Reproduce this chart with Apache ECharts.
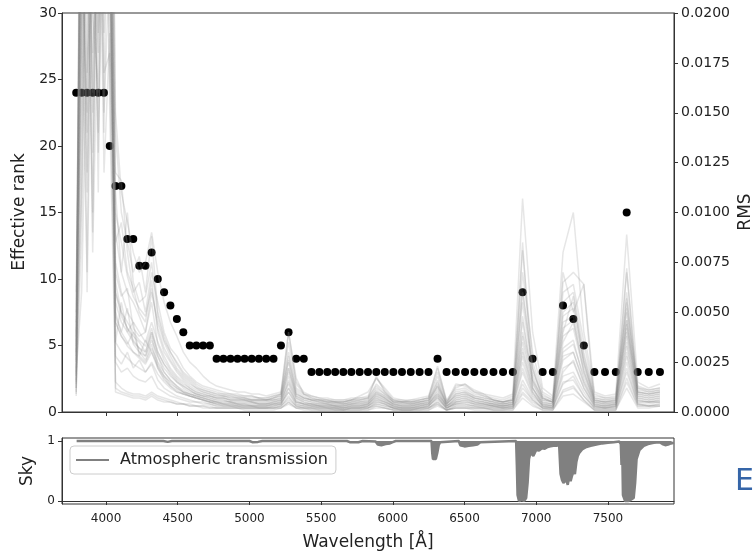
<!DOCTYPE html>
<html><head><meta charset="utf-8">
<script src="https://cdn.jsdelivr.net/npm/echarts@6/dist/echarts.min.js"></script>
<style>html,body{margin:0;padding:0;background:#fff}#c{width:754px;height:555px}</style>
</head><body><div id="c"></div>
<script>
// Wavelength grid (Å) of the effective-rank / RMS measurements
const wavelengths = [3792,3830,3868,3907,3946,3986,4026,4066,4107,4149,4190,4232,4275,4318,4361,4405,4449,4494,4539,4584,4630,4677,4724,4771,4819,4868,4917,4966,5016,5066,5117,5168,5220,5273,5326,5379,5433,5488,5543,5598,5655,5711,5769,5827,5885,5944,6004,6064,6125,6187,6249,6312,6375,6439,6504,6569,6635,6702,6769,6837,6905,6975,7045,7116,7187,7259,7332,7406,7480,7555,7631,7708,7785,7863];
// Effective rank (left axis)
const effectiveRank = [24,24,24,24,24,24,20,17,17,13,13,11,11,12,10,9,8,7,6,5,5,5,5,4,4,4,4,4,4,4,4,4,5,6,4,4,3,3,3,3,3,3,3,3,3,3,3,3,3,3,3,4,3,3,3,3,3,3,3,3,9,4,3,3,8,7,5,3,3,3,15,3,3,3];
// RMS curves (right axis), in units of 1e-4
const RMS_UNIT = 1e-4;
const rms01 = [30,260,140,380,220,300,400, 150,110,95,80,70,75,90, 70,55,45,38,30,25,22,18,15, 13,12,11,10,10,9,9,8,9,10, 40, 15,10,8,7,7,6,6,7,7,8, 17,12, 7,6,6,7,8, 22, 6, 12,14,10,9, 8,7,9, 107, 40, 12,8, 80,100, 40, 10,8,9, 89, 15,12,14];
const rms02 = [15,180,320,90,350,260,300, 120,116,80,60,65,50,70, 55,40,32,28,22,18,15,13,12, 11,10,9,9,8,8,7,7,8,9, 30, 12,9,7,6,6,5,5,6,6,7, 14,10, 6,5,5,6,7, 18, 5, 10,11,8,7, 6,5,7, 81, 25, 9,6, 65,70, 64, 9,7,7, 70, 12,10,11];
const rms03 = [10,120,280,200,160,420,250, 90,70,60,55,48,40,60, 45,35,28,22,18,15,12,11,10, 9,8,8,7,7,6,6,6,7,8, 25, 10,7,6,5,5,5,4,5,5,6, 12,9, 5,5,4,5,6, 15, 4, 9,10,7,6, 5,5,6, 60, 22, 7,5, 55,60, 30, 7,6,6, 57, 10,9,10];
const rms04 = [25,300,60,240,330,150,230, 75,60,50,45,40,35,45, 35,28,22,18,15,12,10,9,8, 7,7,6,6,6,5,5,5,6,6, 22, 8,6,5,5,4,4,4,4,5,5, 10,8, 5,4,4,4,5, 13, 4, 8,9,7,6, 5,4,5, 40, 18, 6,5, 45,48, 25, 6,5,5, 46, 9,8,9];
const rms05 = [8,220,380,130,260,200,350, 60,50,42,38,35,30,40, 30,24,20,16,13,11,9,8,7, 6,6,5,5,5,5,4,4,5,6, 18, 7,5,4,4,4,3,3,4,4,4, 9,7, 4,3,3,4,4, 11, 3, 7,8,6,5, 4,4,4, 35, 14, 5,4, 38,42, 20, 5,4,4, 44, 8,7,8];
const rms06 = [40,350,200,300,110,380,260, 50,40,35,30,28,25,32, 25,20,16,13,11,9,8,7,6, 5,5,5,4,4,4,4,4,4,5, 15, 6,4,4,3,3,3,3,3,3,4, 8,6, 3,3,3,3,4, 9, 3, 6,7,5,4, 4,3,4, 30, 12, 4,3, 32,36, 16, 4,3,4, 40, 7,6,7];
const rms07 = [12,90,250,360,190,240,210, 60,48,42,36,32,30,40, 28,20,16,13,10,9,8,7,6, 5,4,4,4,3,3,3,3,4,4, 12, 5,4,3,3,3,2,2,3,3,3, 7,5, 3,2,2,3,3, 8, 2, 5,6,4,4, 3,3,3, 25, 10, 3,3, 28,30, 14, 3,3,3, 35, 6,5,6];
const rms08 = [18,240,110,280,400,170,180, 48,40,52,34,30,28,38, 24,18,14,12,10,8,7,6,5, 4,4,4,3,3,3,3,3,3,4, 10, 4,3,3,3,2,2,2,2,2,3, 6,4, 2,2,2,2,3, 7, 2, 4,5,4,3, 3,2,3, 20, 8, 3,2, 22,25, 12, 3,2,3, 30, 5,5,5];
const rms09 = [35,400,300,150,290,330,240, 35,55,40,45,28,36,30, 22,17,13,11,9,8,7,6,5, 4,3,3,3,3,3,2,2,3,3, 8, 3,3,2,2,2,2,2,2,2,2, 5,4, 2,2,2,2,2, 6, 2, 4,4,3,3, 2,2,2, 16, 7, 2,2, 18,20, 10, 2,2,2, 25, 4,4,5];
const rms10 = [20,60,190,340,250,310,280, 28,24,30,22,26,20,24, 16,12,10,8,7,6,5,5,4, 3,3,3,3,2,2,2,2,2,3, 7, 3,2,2,2,2,2,1,2,2,2, 4,3, 2,1,1,2,2, 5, 1, 3,3,3,2, 2,2,2, 12, 6, 2,2, 15,16, 8, 2,2,2, 20, 4,3,4];
const rms11 = [14,150,260,80,210,360,150, 15,12,10,9,9,8,10, 8,7,6,5,4,4,3,3,3, 2,2,2,2,2,2,2,2,2,2, 5, 2,2,2,1,1,1,1,1,1,1, 3,2, 1,1,1,1,1, 4, 1, 2,2,2,2, 1,1,1, 9, 4, 1,1, 10,12, 6, 1,1,1, 15, 3,3,3];
const rms12 = [50,320,170,230,380,280,320, 10,9,8,7,7,6,8, 6,5,5,4,4,3,3,2,2, 2,2,2,2,1,1,1,1,1,2, 4, 2,1,1,1,1,1,1,1,1,1, 2,2, 1,1,1,1,1, 3, 1, 2,2,1,1, 1,1,1, 7, 3, 1,1, 8,9, 5, 1,1,1, 12, 2,2,3];
const rms13 = [22,280,360,250,140,300,450, 140,100,85,70,78,60,88, 50,38,30,25,20,17,14,12,11, 10,9,9,8,8,8,7,7,8,9, 35, 14,9,8,7,6,6,6,6,7,7, 13,9, 6,5,6,6,7, 20, 5, 11,12,9,8, 7,6,8, 70, 30, 10,7, 60,64, 35, 8,7,8, 60, 13,11,12];
const rms14 = [30,200,70,310,270,190,270, 110,70,100,65,55,58,75, 48,36,30,24,19,16,13,11,10, 9,9,8,8,7,7,7,6,7,8, 28, 11,8,6,6,5,5,5,5,6,6, 11,8, 5,5,5,5,6, 16, 4, 9,10,8,7, 6,5,6, 55, 20, 8,6, 50,55, 28, 7,6,7, 52, 11,10,11];
const rms15 = [16,340,230,400,300,120,190, 85,95,70,62,50,45,66, 40,30,25,20,16,13,11,10,9, 8,8,7,7,6,6,6,6,6,7, 26, 9,7,6,5,5,4,4,5,5,5, 10,7, 4,4,4,5,5, 14, 4, 8,9,7,6, 5,4,5, 48, 16, 7,5, 40,58, 24, 6,5,6, 50, 10,9,10];
const rms16 = [45,260,330,180,240,350,330, 70,58,62,42,38,40,55, 34,26,21,17,14,12,10,9,8, 7,7,6,6,6,5,5,5,5,6, 20, 8,6,5,4,4,4,4,4,4,5, 9,7, 4,4,4,4,5, 12, 3, 7,8,6,5, 4,4,5, 38, 15, 5,4, 35,45, 22, 5,4,5, 42, 9,8,9];
const rms17 = [28,110,300,260,360,210,220, 55,45,40,35,32,28,36, 28,22,18,15,12,10,9,8,7, 6,6,5,5,5,5,4,4,5,5, 16, 7,5,4,4,4,3,3,4,4,4, 8,6, 4,3,3,4,4, 10, 3, 6,7,5,5, 4,3,4, 32, 12, 4,4, 30,34, 18, 4,4,4, 72, 8,7,8];
const rms18 = [12,380,280,160,320,250,260, 45,38,33,30,27,24,30, 23,18,15,12,10,9,8,7,6, 5,5,5,4,4,4,4,4,4,5, 14, 5,4,4,3,3,3,3,3,3,4, 7,5, 3,3,3,3,4, 9, 3, 5,6,5,4, 3,3,4, 85, 12, 4,3, 26,30, 15, 4,3,4, 38, 7,6,7];
const rms19 = [33,230,150,370,210,290,300, 35,30,27,24,22,20,25, 19,15,12,10,9,8,7,6,5, 5,4,4,4,4,3,3,3,4,4, 12, 5,4,3,3,3,3,2,3,3,3, 6,5, 3,2,2,3,3, 8, 2, 5,5,4,4, 3,3,3, 28, 10, 3,3, 70,50, 64, 3,3,3, 33, 6,5,6];
const rms20 = [19,170,340,220,400,230,240, 45,38,34,40,30,26,34, 22,16,13,10,9,8,7,6,5, 4,4,3,3,3,3,3,3,3,4, 10, 4,3,3,2,2,2,2,2,2,3, 5,4, 2,2,2,2,3, 7, 2, 4,4,3,3, 3,2,3, 22, 9, 3,2, 20,26, 12, 3,2,3, 28, 5,5,5];
const rms21 = [60,290,120,260,180,340,170, 25,20,22,18,16,15,18, 12,10,8,7,6,5,5,4,4, 3,3,3,2,2,2,2,2,2,3, 6, 3,2,2,2,2,1,1,2,2,2, 4,3, 2,1,1,2,2, 5, 1, 3,3,2,2, 2,2,2, 14, 6, 2,2, 14,18, 8, 2,2,2, 22, 4,3,4];
const rms22 = [9,360,390,300,130,270,230, 12,10,9,8,8,7,9, 7,6,5,4,4,3,3,3,2, 2,2,2,2,2,2,2,2,2,2, 5, 2,2,1,1,1,1,1,1,1,2, 3,2, 1,1,1,1,2, 4, 1, 2,2,2,2, 1,1,2, 10, 5, 2,1, 11,13, 6, 1,1,1, 17, 3,3,3];
const rms23 = [26,210,270,330,350,140,380, 65,50,45,40,36,33,42, 30,24,19,15,13,11,9,8,8, 7,7,6,6,6,6,6,6,7,9, 40, 17,9,7,6,6,5,5,6,6,7, 18,10, 5,5,5,6,7, 23, 5, 14,13,10,8, 6,5,6, 45, 16, 6,5, 42,46, 20, 5,5,5, 46, 10,9,10];
const rms24 = [38,310,240,100,280,320,420, 100,85,68,58,52,48,62, 42,32,26,21,17,14,12,10,9, 8,8,7,7,7,6,6,6,6,7, 22, 9,7,6,6,5,5,5,6,8,10, 17,11, 6,6,5,5,6, 13, 4, 13,14,11,9, 6,5,6, 62, 22, 7,5, 48,52, 26, 6,5,6, 55, 12,11,12];
const rmsCurves = [rms01,rms02,rms03,rms04,rms05,rms06,rms07,rms08,rms09,rms10,rms11,rms12,rms13,rms14,rms15,rms16,rms17,rms18,rms19,rms20,rms21,rms22,rms23,rms24];

// Atmospheric transmission (bottom panel)
const skyWave  = [3795,4400,4430,4460,5000,5020,5060,5090,5680,5700,5760,5790,5880,5895,5920,5950,5980,6000,6020,6270,6275,6280,6290,6300,6310,6320,6330,6340,6460,6470,6500,6530,6560,6590,6610,6620,6860,6865,6870,6880,6890,6900,6915,6930,6940,6950,6960,6980,6990,7000,7020,7040,7060,7080,7100,7120,7140,7160,7170,7180,7190,7200,7210,7220,7230,7240,7250,7260,7270,7280,7290,7300,7320,7350,7380,7420,7460,7500,7540,7580,7590,7595,7600,7605,7620,7640,7660,7680,7690,7700,7720,7750,7780,7820,7860,7880,7900,7920,7940,7961];
const skyTrans = [1.0,1.0,0.985,1.0,1.0,0.98,0.985,1.0,1.0,0.98,0.98,1.0,0.99,0.94,0.93,0.95,0.96,0.98,1.0,1.0,0.80,0.70,0.68,0.70,0.80,0.93,0.98,1.0,1.0,0.93,0.91,0.92,0.93,0.94,0.98,1.0,1.0,0.6,0.1,0.0,0.01,0.02,0.0,0.05,0.3,0.7,0.8,0.75,0.8,0.85,0.84,0.88,0.87,0.9,0.91,0.92,0.92,0.93,0.45,0.35,0.3,0.28,0.35,0.27,0.4,0.33,0.42,0.5,0.45,0.65,0.75,0.8,0.86,0.9,0.92,0.94,0.96,0.97,0.98,0.99,0.95,0.6,0.85,0.1,0.0,0.0,0.02,0.05,0.3,0.7,0.85,0.92,0.95,0.97,0.98,0.95,0.93,0.94,0.96,0.97];

// Axis ticks
const xTicks = [4000,4500,5000,5500,6000,6500,7000,7500];
const skyTicks = [0,1];

const FONT = 'DejaVu Sans';
const AX = '#333';
const chart = echarts.init(document.getElementById('c'), null, {renderer:'canvas'});

const lineSeries = rmsCurves.map((arr) => ({
  type:'line', xAxisIndex:0, yAxisIndex:1, silent:true, clip:true,
  showSymbol:false, symbol:'none', z:3,
  data: wavelengths.map((w,i)=>[w, arr[i]]),
  lineStyle:{color:'#808080', width:1.5, opacity:0.2}
}));

const option = {
  animation:false,
  textStyle:{fontFamily:FONT},
  grid:[
    {left:62, top:13, width:612, height:399, show:true, borderColor:AX, borderWidth:1, backgroundColor:'transparent'},
    {left:62, top:438, width:612, height:66, show:true, borderColor:AX, borderWidth:1, backgroundColor:'transparent'}
  ],
  xAxis:[
    {type:'value', gridIndex:0, min:3693, max:7961,
     axisLine:{show:true, lineStyle:{color:AX}},
     axisTick:{show:true, length:4, customValues:xTicks, lineStyle:{color:AX}},
     axisLabel:{show:false}, splitLine:{show:false}},
    {type:'value', gridIndex:1, min:3693, max:7961,
     axisLine:{show:true, lineStyle:{color:AX}},
     axisTick:{show:true, length:4, customValues:xTicks, lineStyle:{color:AX}},
     axisLabel:{show:true, customValues:xTicks, fontSize:12, color:'#222', margin:9, fontFamily:FONT, formatter:v=>String(v)},
     splitLine:{show:false}}
  ],
  yAxis:[
    {type:'value', gridIndex:0, position:'left', min:0, max:30, interval:5,
     axisLine:{show:true, lineStyle:{color:AX}},
     axisTick:{show:true, length:4, lineStyle:{color:AX}},
     axisLabel:{fontSize:14, color:'#222', margin:5, fontFamily:FONT}, splitLine:{show:false}},
    {type:'value', gridIndex:0, position:'right', min:0, max:200, interval:25,
     axisLine:{show:true, lineStyle:{color:AX}},
     axisTick:{show:true, length:4, lineStyle:{color:AX}},
     axisLabel:{fontSize:14, color:'#222', margin:7, fontFamily:FONT, formatter:v=>(v*RMS_UNIT).toFixed(4)},
     splitLine:{show:false}},
    {type:'value', gridIndex:1, position:'left', min:-0.05, max:1.05,
     axisLine:{show:true, lineStyle:{color:AX}},
     axisTick:{show:true, length:4, customValues:skyTicks, lineStyle:{color:AX}},
     axisLabel:{show:true, customValues:skyTicks, fontSize:12, color:'#222', margin:7, fontFamily:FONT, formatter:v=>String(v)},
     splitLine:{show:false}}
  ],
  legend:{
    data:[{name:'Atmospheric transmission', icon:'rect'}],
    left:70, top:446, itemWidth:33, itemHeight:2, itemGap:10,
    padding:[6,8,6,6], borderColor:'#cccccc', borderWidth:1, borderRadius:4,
    backgroundColor:'rgba(255,255,255,0.8)',
    textStyle:{fontSize:16, color:'#222', fontFamily:FONT, padding:[0,0,0,6]},
    selectedMode:false
  },
  series:[
    {type:'scatter', xAxisIndex:0, yAxisIndex:0, z:2, silent:true,
     data: wavelengths.map((w,i)=>[w, effectiveRank[i]]),
     symbolSize:8, itemStyle:{color:'#000', opacity:1}},
    ...lineSeries,
    {type:'line', name:'Atmospheric transmission', xAxisIndex:1, yAxisIndex:2, silent:true,
     showSymbol:false, symbol:'none',
     data: skyWave.map((w,i)=>[w, skyTrans[i]]),
     itemStyle:{color:'#808080'},
     lineStyle:{color:'#808080', width:2.5},
     areaStyle:{color:'#808080', opacity:1, origin:1}}
  ],
  graphic:[
    {type:'text', x:20, y:212, rotation:Math.PI/2,
     style:{text:'Effective rank', fontSize:17, fontFamily:FONT, fill:'#222', align:'center', verticalAlign:'middle', textAlign:'center', textVerticalAlign:'middle'}},
    {type:'text', x:746, y:212, rotation:Math.PI/2,
     style:{text:'RMS', fontSize:17, fontFamily:FONT, fill:'#222', align:'center', verticalAlign:'middle', textAlign:'center', textVerticalAlign:'middle'}},
    {type:'text', x:28, y:471, rotation:Math.PI/2,
     style:{text:'Sky', fontSize:17, fontFamily:FONT, fill:'#222', align:'center', verticalAlign:'middle', textAlign:'center', textVerticalAlign:'middle'}},
    {type:'text', x:368, y:543,
     style:{text:'Wavelength [Å]', fontSize:17, fontFamily:FONT, fill:'#222', align:'center', verticalAlign:'middle', textAlign:'center', textVerticalAlign:'middle'}},
    {type:'text', x:735, y:482,
     style:{text:'E', fontSize:30, fontFamily:FONT, fill:'#3565a8', align:'left', verticalAlign:'middle', textAlign:'left', textVerticalAlign:'middle'}}
  ]
};
chart.setOption(option);
</script>
</body></html>
